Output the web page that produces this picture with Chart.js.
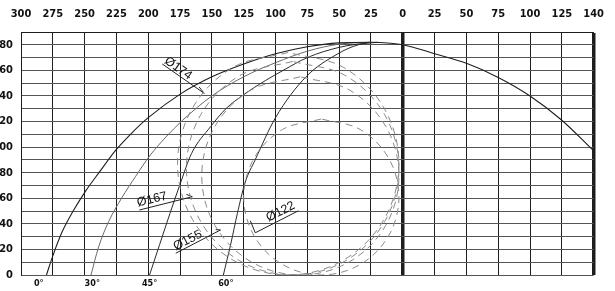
<!DOCTYPE html>
<html><head><meta charset="utf-8">
<script src="https://cdn.jsdelivr.net/npm/chart.js@4/dist/chart.umd.min.js"></script>
<style>
html,body{margin:0;padding:0;background:#fff;}
#wrap{position:relative;width:615px;height:291px;overflow:hidden;background:#fff;}
#c{position:absolute;left:-8px;top:0;}
</style></head><body>
<div id="wrap"><canvas id="c" width="623" height="291"></canvas></div>
<script>
// ---- axis labels ----
const xTickLabels = ['300','275','250','225','200','175','150','125','100','75','50','25','0','25','50','75','100','125','140'];
const yTickLabels = ['0','20','40','60','80','100','120','140','160','180'];
const angleLabels = ['0°','30°','45°','60°'];
const anglePositions = [-286,-244,-199,-139];

// ---- solid curves (x, y) ----
const curve0 = [[-280,0],[-275,15],[-268,33],[-259,50],[-249,66],[-238,81],[-226,97],[-213,111],[-200,123],[-174,142],[-150,155],[-125,165],[-100,173],[-75,178.5],[-50,181.5],[-25,182],[0,180],[25,173],[50,165.5],[75,154.5],[100,140],[125,121],[150,97]];
const curve30 = [[-245,0],[-239,22],[-231,42],[-221,60],[-210,77],[-199,93],[-186,108],[-173,121],[-150,140],[-125,155],[-100,166],[-75,175],[-50,180.5],[-25,182]];
const curve45 = [[-199,0],[-191,24],[-183,48],[-175,71],[-166,95],[-151,116],[-139,130],[-125,141],[-108,152],[-94,160],[-75,170],[-50,178],[-25,182]];
const curve60 = [[-141,0],[-135,25],[-130,48],[-124,72],[-116,90],[-100,123],[-76,155],[-51,173],[-35,180],[-20,182]];

// ---- dashed envelopes ----
const ring174 = [[-90,174],[-133.5,162.3],[-165.3,130.5],[-177,87],[-165.3,43.5],[-133.5,11.7],[-90,0],[-46.5,11.7],[-14.7,43.5],[-3,87],[-14.7,130.5],[-46.5,162.3],[-90,174]];
const ring167 = [[-86.5,167],[-128.3,155.8],[-158.8,125.3],[-170,83.5],[-158.8,41.8],[-128.3,11.2],[-86.5,0],[-44.8,11.2],[-14.2,41.8],[-3,83.5],[-14.2,125.3],[-44.8,155.8],[-86.5,167]];
const ring155 = [[-80.5,155],[-119.3,144.6],[-147.6,116.3],[-158,77.5],[-147.6,38.8],[-119.3,10.4],[-80.5,0],[-41.8,10.4],[-13.4,38.8],[-3,77.5],[-13.4,116.3],[-41.8,144.6],[-80.5,155]];
const ring122 = [[-64,122],[-94.5,113.8],[-116.8,91.5],[-125,61],[-116.8,30.5],[-94.5,8.2],[-64,0],[-33.5,8.2],[-11.2,30.5],[-3,61],[-11.2,91.5],[-33.5,113.8],[-64,122]];

// ---- callouts ----
const labelTexts = ['Ø174','Ø167','Ø155','Ø122'];
const leader174 = [[-189,165],[-156,142],[-160,147]];
const leader167 = [[-207,50.8],[-165.4,61.2],[-170,63]];
const leader155 = [[-178.4,17],[-143.2,35.2],[-147,35.5]];
const leader122 = [[-82,50.2],[-115.9,33],[-119.8,42.4]];

// layout / style (kept separate from data)
const labelAnchors = [[-176.5,161.5],[-197,59],[-169,27],[-96,49.5]];
const labelAngles = [35,-14,-27,-27];
const FONT = "'Liberation Sans Narrow','DejaVu Sans Condensed','Liberation Sans',Arial,sans-serif";

const toPts = a => a.map(p => ({x:p[0], y:p[1]}));
const solid = (data, color, w) => ({data: toPts(data), borderColor: color, borderWidth: w, showLine: true, pointRadius: 0, fill: false, cubicInterpolationMode: 'monotone'});
const dashed = (data) => ({data: toPts(data), borderColor: '#8a8a8a', borderWidth: 1, borderDash: [7,5], showLine: true, pointRadius: 0, fill: false, tension: 0.35});
const leader = (data) => ({data: toPts(data), borderColor: '#222', borderWidth: 1, showLine: true, pointRadius: 0, fill: false, tension: 0});

const textPlugin = {
  id: 'callouts',
  afterDatasetsDraw(chart) {
    const {ctx, scales} = chart;
    ctx.save();
    ctx.fillStyle = '#111';
    ctx.font = "12.5px 'Liberation Sans',Arial,sans-serif";
    ctx.textAlign = 'center';
    ctx.textBaseline = 'middle';
    labelTexts.forEach((t, i) => {
      const px = scales.x.getPixelForValue(labelAnchors[i][0]);
      const py = scales.y.getPixelForValue(labelAnchors[i][1]);
      ctx.save();
      ctx.translate(px, py);
      ctx.rotate(labelAngles[i] * Math.PI / 180);
      ctx.fillText(t, 0, 0);
      ctx.restore();
    });
    ctx.restore();
  }
};

new Chart(document.getElementById('c'), {
  type: 'scatter',
  data: {
    datasets: [
      dashed(ring174), dashed(ring167), dashed(ring155), dashed(ring122),
      solid(curve0, '#1e1e1e', 1.1),
      solid(curve30, '#6a6a6a', 1),
      solid(curve45, '#2a2a2a', 1),
      solid(curve60, '#2a2a2a', 1),
      leader(leader174), leader(leader167), leader(leader155), leader(leader122)
    ]
  },
  plugins: [textPlugin],
  options: {
    responsive: false,
    animation: false,
    layout: {padding: {left: 0, right: 17, top: 0, bottom: 0}},
    plugins: {legend: {display: false}, tooltip: {enabled: false}},
    scales: {
      x: {
        type: 'linear', position: 'top', min: -300, max: 150,
        afterFit: s => { s.height = 32; },
        ticks: {stepSize: 25, autoSkip: false, maxRotation: 0, padding: 11, color: '#111',
          font: {family: FONT, size: 11, weight: 'bold'},
          callback: (v, i) => xTickLabels[i]},
        grid: {drawTicks: false, color: '#1e1e1e',
          lineWidth: c => (c.tick && (c.tick.value === 0 || c.tick.value === 150)) ? 3.5 : 1},
        border: {display: true, color: '#1e1e1e', width: 1}
      },
      x2: {
        type: 'linear', position: 'bottom', min: -300, max: 150,
        afterFit: s => { s.height = 16; },
        afterBuildTicks: s => { s.ticks = anglePositions.map(v => ({value: v})); },
        ticks: {autoSkip: false, maxRotation: 0, padding: 3, color: '#111',
          font: {family: FONT, size: 9, weight: 'bold'},
          callback: (v, i) => angleLabels[i]},
        grid: {display: false, drawTicks: false},
        border: {display: false}
      },
      y: {
        type: 'linear', position: 'left', min: 0, max: 190,
        afterFit: s => { s.width = 29; },
        ticks: {stepSize: 10, autoSkip: false, padding: 8, color: '#111',
          font: {family: FONT, size: 11, weight: 'bold'},
          callback: v => (v % 20 === 0 && v <= 180) ? yTickLabels[v / 20] : ''},
        grid: {drawTicks: false, color: '#555', lineWidth: 1},
        border: {display: true, color: '#1e1e1e', width: 1}
      }
    }
  }
});
</script>
</body></html>
